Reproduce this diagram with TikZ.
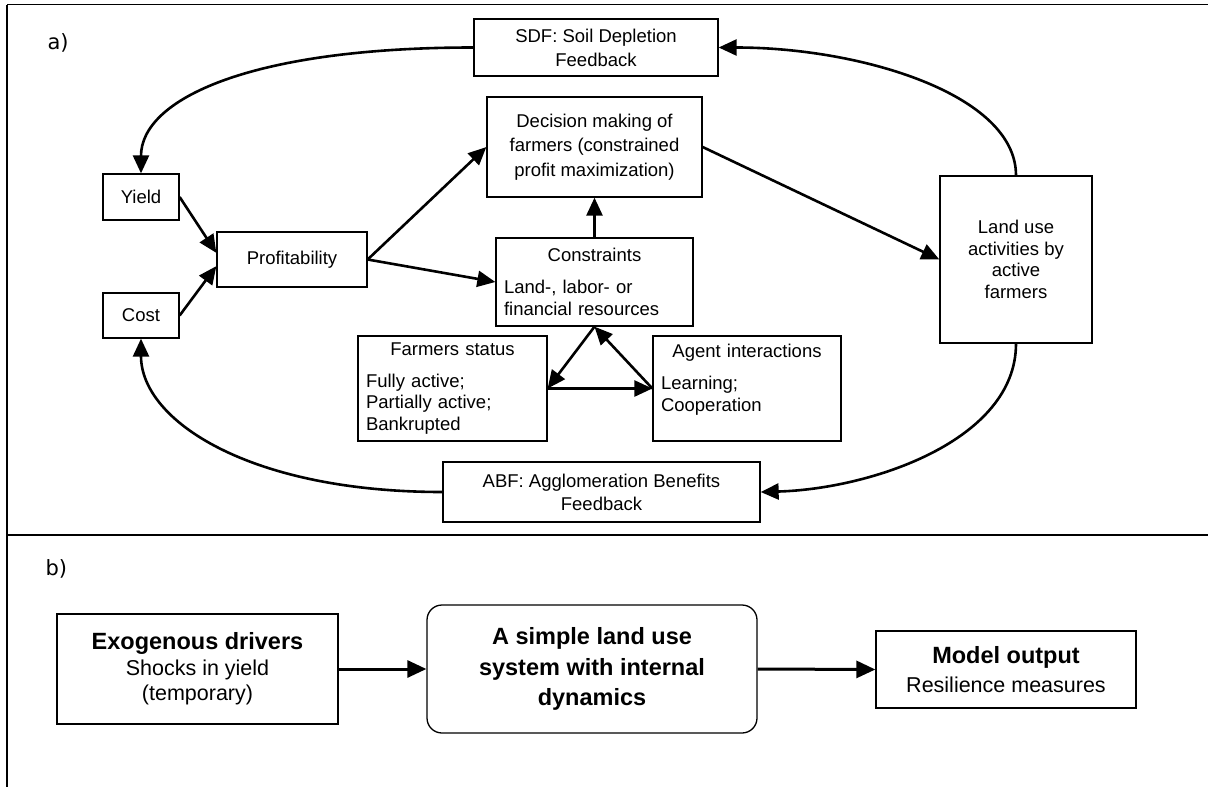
\documentclass[tikz,border=0pt]{standalone}
\usepackage{fontspec}
\setmainfont{Liberation Sans}
\newfontfamily\panelfont{DejaVu Sans}
\usetikzlibrary{arrows.meta}

\tikzset{
  box/.style={draw, line width=1.3pt, inner sep=0pt, align=center,
    font=\fontsize{18.5}{21.5}\selectfont},
  listbox/.style={box, align=left, inner xsep=8pt},
  flow/.style={line width=2.6pt, -{Triangle[length=18pt,width=16pt]}},
  bigflow/.style={line width=3pt, -{Triangle[length=19pt,width=17pt]}},
  frame/.style={line width=2.4pt},
  panel/.style={anchor=base west, font=\panelfont\fontsize{21}{24}\selectfont}
}

\begin{document}
\begin{tikzpicture}[x=1pt, y=-1pt]
\useasboundingbox (0,0) rectangle (1208,787);
\draw[line width=1.6pt] (7,4.5) -- (1208,4.5);
\draw[frame] (7,4.5) -- (7,787);
\draw[frame] (7,535) -- (1208,535);
\node[panel] (pa) at (44,49) {a)};
\node[panel] (pb) at (42,575) {b)};

\node[box, minimum width=76pt, minimum height=46pt] (yield) at (141,197) {Yield};
\node[box, minimum width=76pt, minimum height=45pt] (cost) at (141,315.5) {Cost};
\node[box, minimum width=150pt, minimum height=55pt] (profit) at (292,259.5) {Profitability};
\node[box, minimum width=244pt, minimum height=57pt, font=\fontsize{18.5}{24}\selectfont] (sdf) at (596,47.5) {SDF: Soil Depletion\\Feedback};
\node[box, minimum width=215pt, minimum height=100pt, font=\fontsize{18.5}{24.5}\selectfont] (decide) at (594.5,147) {Decision making of\\farmers (constrained\\profit maximization)};
\node[listbox, text width=181pt, minimum height=88pt] (constr) at (594.5,282) {\makebox[\hsize]{Constraints}\\[10.5pt]Land-, labor- or\\financial resources};
\node[listbox, text width=173pt, minimum height=105pt] (status) at (452.5,388.5) {\makebox[\hsize]{Farmers status}\\[10.5pt]Fully active;\\Partially active;\\Bankrupted};
\node[listbox, text width=172pt, minimum height=105pt] (agent) at (747,388.5) {\makebox[\hsize]{Agent interactions}\\[10.5pt]Learning;\\Cooperation\\\mbox{}};
\node[box, minimum width=152pt, minimum height=167pt] (landuse) at (1016,259.5) {Land use\\activities by\\active\\farmers};
\node[box, minimum width=317pt, minimum height=60pt, font=\fontsize{18.5}{23}\selectfont] (abf) at (601.5,492) {ABF: Agglomeration Benefits\\Feedback};

\draw[flow] (yield.east) -- (profit.175);
\draw[flow] (cost.east) -- (profit.185);
\draw[flow] (profit.east) -- (decide.west);
\draw[flow] (profit.east) -- (constr.west);
\draw[flow] (constr) -- (decide);
\draw[flow] (decide.east) -- (landuse.west);
\draw[flow] (constr.south) -- (status.east);
\draw[flow] (agent.west) -- (constr.south);
\draw[flow] (status.east) -- (agent.west);
\draw[flow] (landuse.north) .. controls +(0,-81) and +(142,0) .. (sdf.east);
\draw[flow] (sdf.west) .. controls +(-224,0) and +(0,-74) .. (yield.north);
\draw[flow] (landuse.south) .. controls +(0,97) and +(110,-3) .. (abf.east);
\draw[flow] (abf.west) .. controls +(-193,0) and +(0,82) .. (cost.south);

\node[box, minimum width=281pt, minimum height=110pt, font=\fontsize{21.5}{25.5}\selectfont] (exo) at (197.5,669) {{\fontsize{23.5}{27}\selectfont\bfseries Exogenous drivers}\\Shocks in yield\\(temporary)};
\node[box, rounded corners=15pt, minimum width=330pt, minimum height=128pt, font=\fontsize{23.5}{30.5}\selectfont\bfseries] (system) at (592,669) {A simple land use\\system with internal\\dynamics};
\node[box, minimum width=260pt, minimum height=77pt, font=\fontsize{21.5}{29}\selectfont] (output) at (1006,669.5) {{\fontsize{23.5}{27}\selectfont\bfseries Model output}\\Resilience measures};
\draw[bigflow] (exo) -- (system);
\draw[bigflow] (system.east) -- (output.west);
\end{tikzpicture}
\end{document}
